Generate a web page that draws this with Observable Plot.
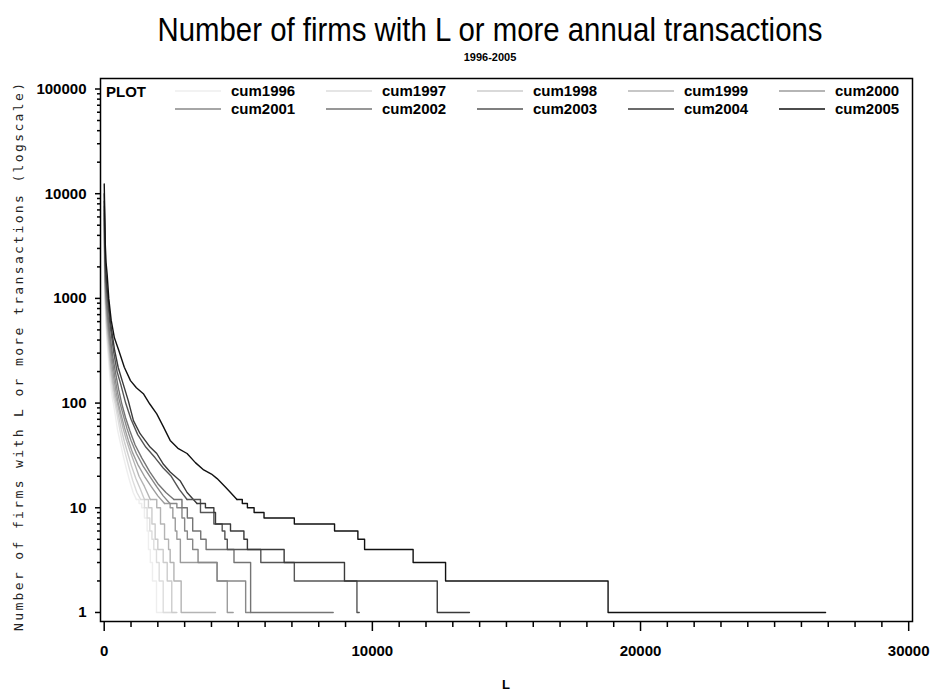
<!DOCTYPE html>
<html><head><meta charset="utf-8">
<script src="https://cdn.jsdelivr.net/npm/d3@7"></script>
<script src="https://cdn.jsdelivr.net/npm/@observablehq/plot@0.6"></script>
<style>
html,body{margin:0;padding:0;background:#fff;}
#chart{position:relative;width:932px;height:693px;}
</style></head><body><div id="chart"></div>
<script>
const series = ["cum1996","cum1997","cum1998","cum1999","cum2000","cum2001","cum2002","cum2003","cum2004","cum2005"];
const colors = ["#eeeeee","#dddddd","#cccccc","#b4b4b4","#9c9c9c","#888888","#747474","#555555","#3a3a3a","#111111"];

const L1996 = [1,15,35,60,90,140,210,270,320,340,420,500,600,700,820,950,1080,1200,1300,1400,1500,1600,1650,1720,1800,1950,2650];
const N1996 = [4000,1300,850,600,430,300,180,128,105,100,75,55,42,32,24,18,14,12,11,10,8,6,4,3,2,1,1];
const L1997 = [1,20,40,65,95,150,230,300,360,400,490,580,680,800,930,1070,1220,1360,1500,1600,1700,1780,1850,1950,2050,2200,2500];
const N1997 = [4600,1500,950,680,480,330,200,140,110,100,75,56,42,32,24,18,14,12,10,8,6,5,4,3,2,1,1];
const L1998 = [1,20,40,70,100,160,240,320,390,440,540,640,750,880,1020,1180,1350,1500,1650,1780,1900,2000,2200,2350,2520,2710];
const N1998 = [5200,1600,1000,720,520,360,210,150,115,100,75,56,43,33,25,19,15,12,10,7,5,4,3,2,1,1];
const L1999 = [1,20,45,75,110,170,260,340,420,490,600,700,820,960,1120,1300,1500,1720,1960,2100,2250,2400,2460,2600,2870,4150];
const N1999 = [5800,1800,1100,800,560,390,220,155,118,100,75,58,45,35,27,20,16,12,10,7,5,4,3,2,1,1];
const L2000 = [1,25,50,80,120,180,280,370,450,525,640,760,900,1050,1250,1500,1750,2000,2250,2460,2560,2650,2710,2840,4210,4590,4810];
const N2000 = [6500,1900,1200,850,600,420,240,165,125,100,76,58,44,34,26,20,16,13,11,10,8,6,5,3,2,1,1];
const L2001 = [1,25,50,85,130,190,300,400,500,590,720,850,1000,1200,1450,1700,1950,2200,2450,2710,2900,3000,3100,3300,3500,4210,5275,5460];
const N2001 = [7000,2000,1300,900,650,450,260,175,125,100,75,57,44,33,25,20,16,13,11,10,8,6,5,4,3,2,1,1];
const L2002 = [1,25,55,90,140,200,320,430,540,650,800,950,1150,1400,1700,2000,2300,2600,2900,3100,3300,3600,3800,4840,5460,8540];
const N2002 = [7600,2200,1400,1000,700,480,280,190,135,100,72,55,40,30,22,17,14,12,10,8,6,5,4,3,1,1];
const L2003 = [1,30,60,100,150,220,360,480,620,800,1000,1250,1550,1900,2200,2500,2800,3090,3590,4090,4400,4500,4590,5840,7090,9425,9510];
const N2003 = [8500,2500,1600,1150,850,550,300,200,150,100,70,50,38,30,24,20,15,12,9,7,6,5,4,3,2,1,1];
const L2004 = [1,30,60,100,150,230,390,520,670,900,1090,1340,1710,1960,2210,2460,2840,3090,3460,3775,4090,4150,4710,5210,5340,6710,8960,12420,13620];
const N2004 = [10000,2800,1800,1300,1000,600,318,220,164,105,68,51,38,33,26,22,18,14,11,10,9,7,6,5,4,3,2,1,1];
const L2005 = [1,40,70,110,170,260,380,545,750,980,1200,1460,1700,1960,2200,2460,2750,3090,3400,3710,4000,4210,4500,4710,4950,5150,5340,5590,5960,7090,8590,9460,9710,11520,12730,18790,26900];
const N2005 = [12400,3300,2200,1700,1000,620,420,318,220,164,140,123,98,79,60,44,37,33,27,23,21,19,16,14,12,11,10,9,8,7,6,5,4,3,2,1,1];

const xTicks = [0,10000,20000,30000];
const yTicks = [1,10,100,1000,10000,100000];
const titleText = "Number of firms with L or more annual transactions";
const subtitleText = "1996-2005";
const xLabel = "L";
const yLabel = "Number of firms with L or more transactions (logscale)";
const legendTitle = "PLOT";

const Ls = [L1996,L1997,L1998,L1999,L2000,L2001,L2002,L2003,L2004,L2005];
const Ns = [N1996,N1997,N1998,N1999,N2000,N2001,N2002,N2003,N2004,N2005];
// dense part of each curve (many tiny steps, looks smooth) vs. sparse integer-step tail
const head = [], tail = [];
series.forEach((s, i) => {
  const k = Ns[i].findIndex(n => n <= 12);
  Ls[i].forEach((L, j) => {
    const row = {series: s, L, N: Ns[i][j]};
    if (j <= k) head.push(row);
    if (j >= k) tail.push(row);
  });
});

const xMinor = d3.range(0, 30001, 1000).filter(v => !xTicks.includes(v));
const yMinor = [];
yTicks.slice(0, -1).forEach(d => { for (let m = 2; m <= 9; m++) yMinor.push(d * m); });

const plot = Plot.plot({
  width: 932, height: 693,
  marginTop: 78, marginBottom: 72, marginLeft: 100, marginRight: 20,
  style: {fontFamily: "'Liberation Sans', Arial, sans-serif", fontSize: "15px", fontWeight: "bold", color: "#000", background: "#fff", overflow: "visible"},
  x: {domain: [-138, 30142], axis: null},
  y: {type: "log", domain: [0.82, 126000], axis: null},
  color: {domain: series, range: colors},
  marks: [
    Plot.axisX({ticks: xMinor, tickSize: 6, tickFormat: () => "", strokeWidth: 1.5, label: null}),
    Plot.axisX({ticks: xTicks, tickSize: 10, tickPadding: 14, tickFormat: d => String(d), strokeWidth: 1.5, label: null}),
    Plot.axisY({ticks: yMinor, tickSize: 3, tickFormat: () => "", strokeWidth: 1.5, label: null}),
    Plot.axisY({ticks: yTicks, tickSize: 5, tickPadding: 9, tickFormat: d => String(d), strokeWidth: 1.5, label: null}),
    Plot.line(head, {x: "L", y: "N", z: "series", stroke: "series", curve: "linear", strokeWidth: 1.4}),
    Plot.line(tail, {x: "L", y: "N", z: "series", stroke: "series", curve: "step-after", strokeWidth: 1.4}),
    Plot.frame({stroke: "#000", strokeWidth: 1.5})
  ]
});

const svg = d3.select(plot);
svg.append("text").text(titleText)
  .attr("x", 490).attr("y", 41).attr("text-anchor", "middle")
  .attr("textLength", 665).attr("lengthAdjust", "spacingAndGlyphs")
  .style("font-family", "'Liberation Sans', Arial, sans-serif").style("font-size", "33px").style("font-weight", "normal").attr("fill", "#000");
svg.append("text").text(subtitleText)
  .attr("x", 490).attr("y", 61).attr("text-anchor", "middle")
  .style("font-size", "11px").style("font-weight", "bold").attr("fill", "#000");
svg.append("text").text(xLabel)
  .attr("x", 506).attr("y", 689).attr("text-anchor", "middle")
  .style("font-size", "13px").style("font-weight", "bold").attr("fill", "#000");
svg.append("text").text(yLabel)
  .attr("transform", "translate(23,357) rotate(-90)").attr("text-anchor", "middle")
  .attr("textLength", 548).attr("lengthAdjust", "spacing")
  .style("font-family", "'DejaVu Sans Mono', monospace").style("font-size", "13px").style("font-weight", "normal").attr("fill", "#222");

const leg = svg.append("g").attr("text-anchor", "start");
leg.append("text").text(legendTitle).attr("x", 106).attr("y", 97).attr("text-anchor", "start").attr("fill", "#000");
series.forEach((s, i) => {
  const col = i % 5, row = Math.floor(i / 5);
  const x0 = 175 + col * 151, y0 = 91 + row * 18;
  leg.append("line").attr("x1", x0).attr("x2", x0 + 46).attr("y1", y0).attr("y2", y0)
    .attr("stroke", colors[i]).attr("stroke-width", 1.4);
  leg.append("text").text(s).attr("x", x0 + 56).attr("y", y0 + 5).attr("text-anchor", "start").attr("fill", "#000");
});

document.getElementById("chart").appendChild(plot);
</script></body></html>
